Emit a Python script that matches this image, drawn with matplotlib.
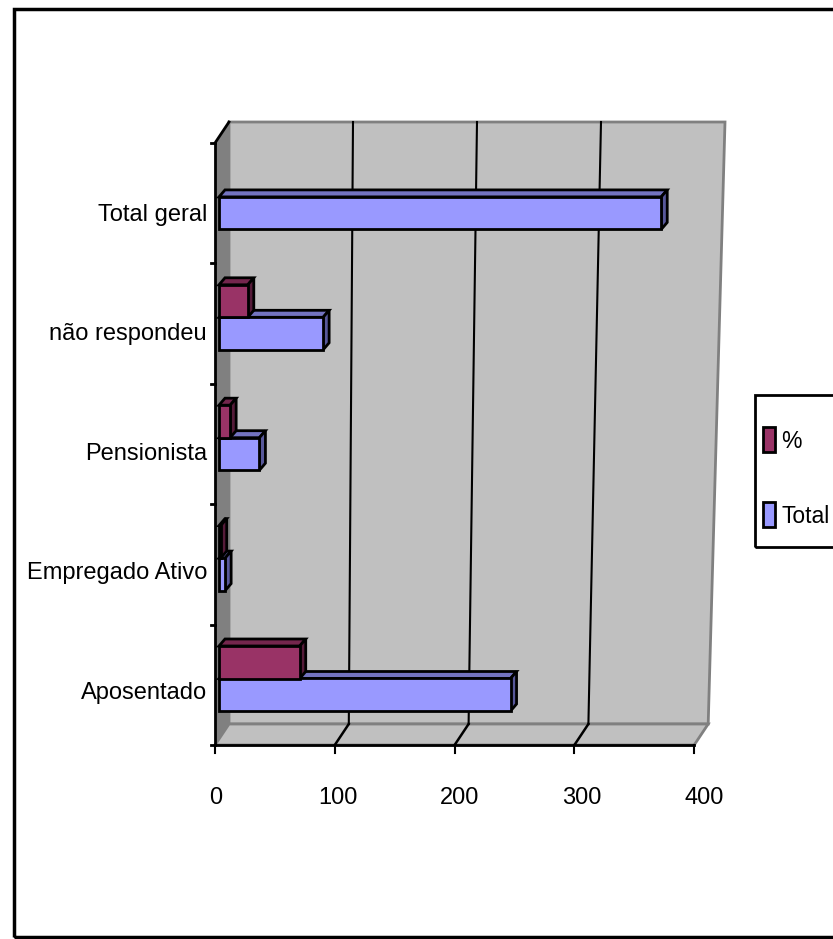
import numpy as np
import matplotlib
matplotlib.use("Agg")
import matplotlib.pyplot as plt
from matplotlib.patches import Polygon, Rectangle
from matplotlib import font_manager

categorias = ['Aposentado', 'Empregado Ativo', 'Pensionista', 'não respondeu', 'Total geral']
total = [238, 5, 33, 85, 361]
pct = [65.9, 1.4, 9.1, 23.5, np.nan]
series = ['%', 'Total']
xticks = [0, 100, 200, 300, 400]

cor_total = ['#9999FF', '#7373C0', '#58589A']   # frente, topo, lado
cor_pct = ['#993366', '#74264D', '#551B39']

nomes = {f.name for f in font_manager.fontManager.ttflist}
fonte = 'Liberation Sans Narrow' if 'Liberation Sans Narrow' in nomes else 'Liberation Sans'
plt.rcParams['font.family'] = [fonte, 'DejaVu Sans']
fs = 17 if fonte == 'Liberation Sans' else 20
fs_leg = 16.5 if fonte == 'Liberation Sans' else 20

W, H = 833, 939
fig = plt.figure(figsize=(W / 100, H / 100), dpi=100)
ax = fig.add_axes([0, 0, 1, 1])

# escala: valor 0 em x=219 px, 1.225 px por unidade; categorias a 120.4 px
X0, SX = 219, 1.225
Y0, SY = 678.5, 120.4
ax.set_xlim(-X0 / SX, (W - X0) / SX)
ax.set_ylim((Y0 - H) / SY, Y0 / SY)
ax.axis('off')


def px(x, y):
    return ((x - X0) / SX, (Y0 - y) / SY)


# caixa 3D (paredes e chão)
fb, bb, bt, ft = 745, 724, 122, 143
fx = lambda v: 215 + 1.198 * v
bbx = lambda v: 229 + 1.198 * v
btx = lambda v: 229 + 1.24 * v

ax.add_patch(Polygon([px(215, fb), px(215, ft), px(229, bt), px(229, bb)],
                     closed=True, fc='#808080', ec='none', zorder=1))
ax.add_patch(Polygon([px(bbx(0), bb), px(btx(0), bt), px(btx(400), bt), px(bbx(400), bb)],
                     closed=True, fc='#C0C0C0', ec='#808080', lw=2, zorder=1))
ax.add_patch(Polygon([px(fx(0), fb), px(bbx(0), bb), px(bbx(400), bb), px(fx(400), fb)],
                     closed=True, fc='#C0C0C0', ec='#808080', lw=2, zorder=1))
for v in xticks[1:-1]:
    ax.plot(*zip(px(bbx(v), bb), px(btx(v), bt)), color='black', lw=1.5, zorder=2)
    ax.plot(*zip(px(fx(v), fb), px(bbx(v), bb)), color='black', lw=1.8, zorder=2)

# eixos
ax.plot(*zip(px(215, ft), px(215, fb)), color='black', lw=2, zorder=3)
ax.plot(*zip(px(215, ft), px(229, bt)), color='black', lw=2, zorder=3)
ax.plot(*zip(px(fx(0), fb), px(fx(400), fb)), color='black', lw=2, zorder=3)
for k in range(6):
    yk = ft + (fb - ft) * k / 5
    ax.plot(*zip(px(211, yk), px(215, yk)), color='black', lw=2, zorder=3)
for v in xticks:
    ax.plot(*zip(px(fx(v), fb), px(fx(v), fb + 8)), color='black', lw=1.5, zorder=3)
    ax.text(*px(216 + 1.22 * v, 804), str(v), ha='center', va='baseline', fontsize=fs)

for i, c in enumerate(categorias):
    ax.text(*px(207, 699 - 119.6 * i), c, ha='right', va='baseline', fontsize=fs)

# barras 3D
y = np.arange(len(categorias))
h = 0.27
dx, dy = 6 / SX, 7 / SY


def barras(vals, pos, cores):
    ax.barh(pos, vals, height=h, left=0, color=cores[0], edgecolor='black', lw=2, zorder=5)
    for v, p in zip(vals, pos):
        if np.isnan(v):
            continue
        top, bot = p + h / 2, p - h / 2
        ax.add_patch(Polygon([(0, top), (v, top), (v + dx, top + dy), (dx, top + dy)],
                             closed=True, fc=cores[1], ec='black', lw=2, zorder=4))
        ax.add_patch(Polygon([(v, bot), (v, top), (v + dx, top + dy), (v + dx, bot + dy)],
                             closed=True, fc=cores[2], ec='black', lw=2, zorder=4))


barras(np.array(total, float), y - 0.135, cor_total)
barras(np.array(pct, float), y + 0.135, cor_pct)

# legenda
ax.add_patch(Rectangle(px(755, 547), 120 / SX, (547 - 395) / SY, fill=False,
                       ec='black', lw=2, clip_on=False, zorder=6))
for nome, cor, yl in zip(series, [cor_pct[0], cor_total[0]], [440, 515]):
    ax.add_patch(Rectangle(px(763, yl + 12), 12 / SX, 25 / SY, fc=cor, ec='black',
                           lw=2, zorder=6))
    ax.text(*px(781, yl + 8), nome, ha='left', va='baseline', fontsize=fs_leg)

# moldura externa
fig.add_artist(Rectangle((14 / W, 1 - 937 / H), 830 / W, 928 / H, fill=False,
                         ec='black', lw=2.5, transform=fig.transFigure))

fig.savefig('out.png', dpi=100)
